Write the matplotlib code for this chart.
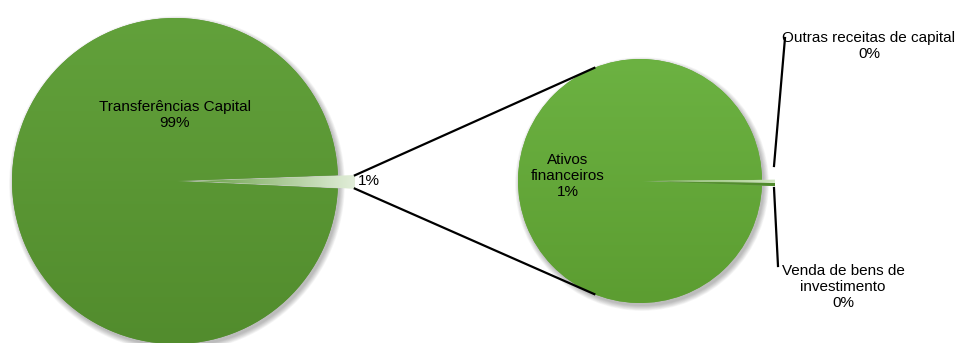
import matplotlib.pyplot as plt
from matplotlib.colors import to_rgb
from matplotlib.patches import Circle
import numpy as np

plt.rcParams['font.family'] = ['Liberation Sans', 'DejaVu Sans']

# receitas de capital (% do total)
main_labels = ["Transferências Capital", "Outros"]
detail_labels = ["Ativos\nfinanceiros", "Outras receitas de capital", "Venda de bens de\ninvestimento"]
transferencias = 98.7
detail_values = [1.29, 0.005, 0.005]

W, H = 968, 343
fig = plt.figure(figsize=(W / 100, H / 100), dpi=100)
ax = fig.add_axes([0, 0, 1, 1])


def Y(y):
    # y medido a partir do topo -> coordenada dos dados
    return H - y


big_c = (175, Y(181))
big_r = 163
small_c = (640, Y(181))
small_r = 122

other = sum(detail_values)
main_values = [transferencias, other]


def shadow(c, r):
    for k in range(8):
        ax.add_patch(Circle((c[0] + 2, c[1] - 3), r + k * 0.7, color="black",
                            alpha=0.035, lw=0, zorder=0))


def gradient(wedge, extent, c1, c2, horizontal=False, z=1):
    g = np.linspace(0, 1, 256)
    c1 = np.array(to_rgb(c1))
    c2 = np.array(to_rgb(c2))
    if horizontal:
        img = (c1 * (1 - g[:, None]) + c2 * g[:, None])[None, :, :]
    else:
        img = (c1 * (1 - g[:, None]) + c2 * g[:, None])[:, None, :]
    im = ax.imshow(img, extent=extent, origin="upper", aspect="auto", zorder=z)
    im.set_clip_path(wedge)


shadow(big_c, big_r)
shadow(small_c, small_r)

# pie principal
share = other / (transferencias + other) * 360
w_big, _ = ax.pie(main_values, center=big_c, radius=big_r,
                  startangle=-share / 2 - 0.3, counterclock=False,
                  explode=[0, 17], colors=["#5a9635", "#dbe9d0"],
                  wedgeprops=dict(lw=0))
w_big = list(w_big)
w_big[0].set_zorder(1)
w_big[1].set_zorder(2)
gradient(w_big[0], (big_c[0] - big_r, big_c[0] + big_r, big_c[1] - big_r, big_c[1] + big_r),
         "#62a13b", "#528c2d")
gradient(w_big[1], (big_c[0], big_c[0] + big_r + 20, big_c[1] - 20, big_c[1] + 20),
         "#5a9635", "#e4efdc", horizontal=True, z=2)

# pie secundária
small_share = sum(detail_values[1:]) / other * 360
w_small, _ = ax.pie(detail_values, center=small_c, radius=small_r,
                    startangle=-small_share / 2 - 0.8 + 360, counterclock=False,
                    explode=[0, 13, 13], colors=["#66aa3c", "#d0e4c2", "#5a9632"],
                    wedgeprops=dict(lw=0))
w_small = list(w_small)
w_small[0].set_zorder(1)
gradient(w_small[0], (small_c[0] - small_r, small_c[0] + small_r, small_c[1] - small_r, small_c[1] + small_r),
         "#6cb242", "#5c9d31")
w_small[1].set_zorder(3)
w_small[2].set_zorder(3)
gradient(w_small[1], (small_c[0], small_c[0] + small_r + 16, small_c[1] - 10, small_c[1] + 10),
         "#66aa3c", "#d4e7c6", horizontal=True, z=3)
gradient(w_small[2], (small_c[0], small_c[0] + small_r + 16, small_c[1] - 10, small_c[1] + 10),
         "#5a9632", "#4f8a2b", horizontal=True, z=3)

ax.set_xlim(0, W)
ax.set_ylim(0, H)
ax.set_aspect("equal")
ax.axis("off")

# linhas de ligação
t1, t2 = w_big[1].theta1, w_big[1].theta2
tm = np.radians((t1 + t2) / 2)
cx = big_c[0] + 17 * np.cos(tm)
cy = big_c[1] + 17 * np.sin(tm)
for a_big, a_small in [(max(t1, t2), 112), (min(t1, t2), 248)]:
    x0 = cx + big_r * np.cos(np.radians(a_big))
    y0 = cy + big_r * np.sin(np.radians(a_big))
    x1 = small_c[0] + small_r * np.cos(np.radians(a_small))
    y1 = small_c[1] + small_r * np.sin(np.radians(a_small))
    ax.plot([x0, x1], [y0, y1], color="black", lw=1.6, zorder=4)

# linhas de chamada dos rótulos 0%
ax.plot([774, 785], [Y(166), Y(38)], color="black", lw=1.6, zorder=4)
ax.plot([774, 778], [Y(188), Y(266)], color="black", lw=1.6, zorder=4)

total = transferencias + other
fs = 11
ax.text(175, Y(115), f"{main_labels[0]}\n{round(transferencias / total * 100):.0f}%",
        ha="center", va="center", fontsize=fs, linespacing=1.15, zorder=5)
ax.text(358, Y(181), f"{round(other / total * 100):.0f}%",
        ha="left", va="center", fontsize=fs, zorder=5)
ax.text(568, Y(176), f"{detail_labels[0]}\n{round(detail_values[0] / total * 100):.0f}%",
        ha="center", va="center", fontsize=fs, linespacing=1.15, zorder=5)
ax.text(869, Y(46), f"{detail_labels[1]}\n{round(detail_values[1] / total * 100):.0f}%",
        ha="center", va="center", fontsize=fs, linespacing=1.15, zorder=5)
ax.text(843, Y(287), f"{detail_labels[2]}\n{round(detail_values[2] / total * 100):.0f}%",
        ha="center", va="center", fontsize=fs, linespacing=1.15, zorder=5)

fig.savefig("out.png", dpi=100)
